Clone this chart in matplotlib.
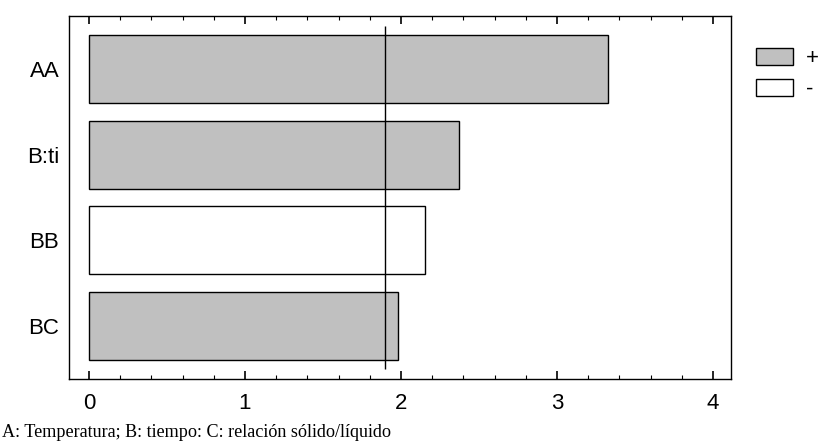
import matplotlib
matplotlib.use("Agg")
import matplotlib.pyplot as plt
from matplotlib.patches import Patch

# Standardized effects (Pareto chart)
terms = ["AA", "B:ti", "BB", "BC"]
effects = [3.325, 2.374, 2.154, 1.979]
signs = ["+", "+", "-", "+"]
critical_value = 1.895
xticks = [0, 1, 2, 3, 4]
footnote = "A: Temperatura; B: tiempo: C: relación sólido/líquido"

sans = ["Liberation Sans", "DejaVu Sans"]
serif = ["Liberation Serif", "DejaVu Serif"]
fill = {"+": "#c0c0c0", "-": "#ffffff"}

fig = plt.figure(figsize=(8.22, 4.41), dpi=100)
ax = fig.add_axes([69 / 822, 62 / 441, 662 / 822, 363 / 441])

ypos = list(range(len(terms)))
ax.barh(ypos, effects, height=0.79, color=[fill[s] for s in signs],
        edgecolor="black", linewidth=1.0, zorder=2)
ax.vlines(critical_value, -0.5, len(terms) - 0.5, color="black",
          linewidth=1.0, zorder=3)

ax.set_ylim(len(terms) - 1 + 0.62, -0.62)
ax.set_xlim(-0.128, 4.115)
ax.set_xticks(xticks)
ax.set_xticks([x / 5 for x in range(0, 21)], minor=True)
ax.set_yticks(ypos)
ax.set_yticklabels(terms, family=sans, fontsize=16)
ax.set_xticklabels([str(t) for t in xticks], family=sans, fontsize=16)
ax.tick_params(axis="x", which="major", direction="in", length=6, width=1.2,
               top=True, pad=10)
ax.tick_params(axis="x", which="minor", direction="in", length=3, width=0.8,
               top=True)
ax.tick_params(axis="y", length=0, pad=7)
for sp in ax.spines.values():
    sp.set_linewidth(1.0)

handles = [Patch(facecolor=fill["+"], edgecolor="black", linewidth=1.0),
           Patch(facecolor=fill["-"], edgecolor="black", linewidth=1.0)]
fig.legend(handles, ["+", "-"], loc="upper left",
           bbox_to_anchor=(754 / 822, 1 - 46 / 441), frameon=False,
           prop={"family": sans, "size": 16}, handlelength=1.67,
           handleheight=0.8, labelspacing=0.42, handletextpad=0.55,
           borderpad=0.1, borderaxespad=0.0)

fig.text(0.003, 4 / 441, footnote, family=serif, fontsize=13.1,
         ha="left", va="baseline")

fig.savefig("out.png", dpi=100)
